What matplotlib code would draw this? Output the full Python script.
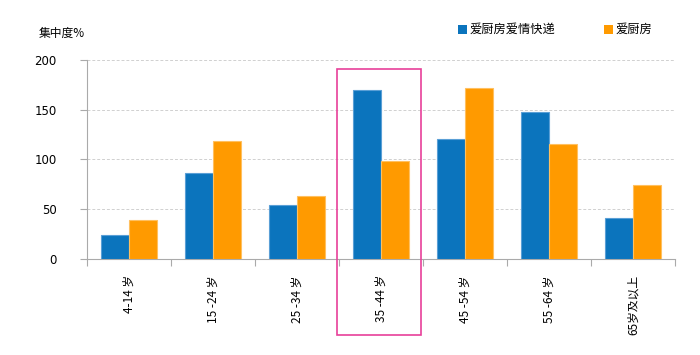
import matplotlib
matplotlib.use("Agg")
import matplotlib.pyplot as plt
from matplotlib.patches import Rectangle
import numpy as np

plt.rcParams['font.family'] = ['Noto Sans CJK SC', 'DejaVu Sans']

categories = ["4-14 岁", "15 -24 岁", "25 -34 岁", "35 -44 岁", "45 -54 岁", "55 -64 岁", "65岁及以上"]
series_a = [24, 86, 54, 170, 120, 148, 41]
series_b = [39, 118, 63, 98, 172, 115, 74]
series_names = ["爱厨房爱情快递", "爱厨房"]
yticks = [0, 50, 100, 150, 200]

blue = "#0b74bd"
orange = "#ff9a00"

fig = plt.figure(figsize=(7, 3.55), dpi=100)
ax = fig.add_axes([87/700, 1-258.5/355, (675-87)/700, (258.5-60)/355])

x = np.arange(len(categories))
w = 1/3
ax.bar(x - w/2, series_a, w, color=blue, edgecolor="#5a9fd6", linewidth=0.8, zorder=3)
ax.bar(x + w/2, series_b, w, color=orange, edgecolor="#ffc060", linewidth=0.8, zorder=3)

ax.set_xlim(-0.5, len(categories) - 0.5)
ax.set_ylim(0, 200)
ax.set_yticks(yticks)
ax.set_yticklabels([str(v) for v in yticks], fontsize=8.5, family=['DejaVu Sans'])
ax.yaxis.grid(True, color="#d0d0d0", linestyle=(0, (3, 2)), linewidth=0.7, zorder=0)
ax.set_axisbelow(True)

ax.set_xticks(np.arange(len(categories) + 1) - 0.5)
ax.set_xticklabels([])
ax.set_xticks(x, minor=True)
ax.set_xticklabels(categories, minor=True, rotation=90, fontsize=8.5, va='top')
ax.tick_params(axis='x', which='minor', length=0, pad=12)
ax.tick_params(axis='x', which='major', length=5, color="#aaaaaa", direction='out')
ax.tick_params(axis='y', length=5, color="#aaaaaa", direction='out', pad=17)

for s in ["top", "right"]:
    ax.spines[s].set_visible(False)
for s in ["left", "bottom"]:
    ax.spines[s].set_color("#aaaaaa")
    ax.spines[s].set_linewidth(0.8)

fig.text(39/700, 1-33/355, "集中度%", fontsize=8.5, va='center', ha='left')

# legend
for (lx, col, name) in [(458, blue, series_names[0]), (604, orange, series_names[1])]:
    fig.patches.append(Rectangle((lx/700, 1-34/355), 9/700, 9/355, transform=fig.transFigure,
                                 facecolor=col, edgecolor='none'))
    fig.text((lx+12)/700, 1-29.5/355, name, fontsize=8.8, va='center', ha='left')

# highlight box
fig.patches.append(Rectangle((337/700, 1-335/355), (421-337)/700, (335-69)/355,
                             transform=fig.transFigure, fill=False,
                             edgecolor="#e8409a", linewidth=1.2))

fig.savefig("out.png", dpi=100)
